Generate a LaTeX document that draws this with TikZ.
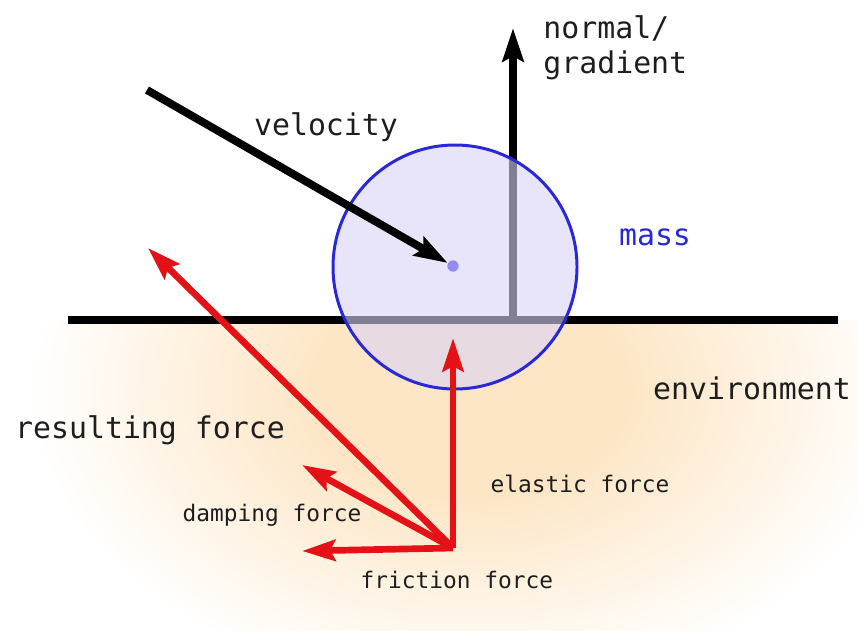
\documentclass[tikz,border=0pt]{standalone}
\usepackage{fontspec}
\setmonofont{DejaVu Sans Mono}
\usepackage{xcolor}
\usepackage{tikz}
\usetikzlibrary{arrows.meta,positioning}

\definecolor{txtgray}{RGB}{30,30,30}
\definecolor{massblue}{RGB}{40,40,215}
\definecolor{massfill}{RGB}{217,210,247}
\definecolor{dotblue}{RGB}{150,140,240}
\definecolor{forcered}{RGB}{228,18,22}
\definecolor{envorange}{RGB}{253,230,198}

\pgfdeclareradialshading{envshade}{\pgfpoint{0bp}{0bp}}{%
  color(0bp)=(envorange); color(9bp)=(envorange); color(25bp)=(white); color(50bp)=(white)}

\begin{document}
\begin{tikzpicture}[
    x=0.02cm, y=-0.02cm,
    bigtxt/.style={font=\fontsize{17}{20}\selectfont\ttfamily, text=txtgray, inner sep=0pt},
    smalltxt/.style={font=\fontsize{13}{15}\selectfont\ttfamily, text=txtgray, inner sep=0pt},
    force/.style={line width=3.8pt, draw=forcered, -{Stealth[length=19pt, width=12pt, inset=3pt]}},
    blackvec/.style={line width=4.2pt, -{Stealth[length=19pt, width=12pt, inset=3pt]}}
]
\useasboundingbox (0,0) rectangle (858,630);

\begin{scope}
  \clip (0,320) rectangle (858,630);
  \shade[shading=envshade] (470,390) ellipse (440 and 300);
\end{scope}

\coordinate (gl) at (68,320);
\coordinate (gr) at (838,320);
\coordinate (nbase) at (513,320);
\coordinate (ntip) at (513,28);
\coordinate (vstart) at (147,90);

\draw[line width=4.5pt] (gl) -- (gr);
\draw[blackvec] (nbase) -- (ntip);

\draw[draw=massblue, line width=1.7pt, fill=massfill, fill opacity=0.6] (455,267) circle (122);

\node[circle, fill=dotblue, inner sep=0pt, minimum size=6.5pt] (dot) at (453,266) {};
\draw[blackvec, line width=4.5pt] (vstart) -- (dot);

\coordinate (F) at (453,548);
\coordinate (elastic) at (453,338);
\coordinate (result) at (148,248);
\coordinate (damp) at (302,465);
\coordinate (frict) at (302,551);

\draw[force] (F) -- (elastic);
\draw[force] (F) -- (result);
\draw[force] (F) -- (damp);
\draw[force] (F) -- (frict);

\node[bigtxt] (velo) at (326,127) {velocity};
\node[bigtxt, align=left, anchor=west] (norm) at (543,48) {normal/\\gradient};
\node[bigtxt, text=massblue] (mass) at (655,237) {mass};
\node[bigtxt] (env) at (752,388) {environment};
\node[bigtxt] (res) at (150,430) {resulting force};
\node[smalltxt] (dmp) at (272,515) {damping force};
\node[smalltxt] (ela) at (580,484) {elastic force};
\node[smalltxt] (fri) at (457,580) {friction force};
\end{tikzpicture}
\end{document}
